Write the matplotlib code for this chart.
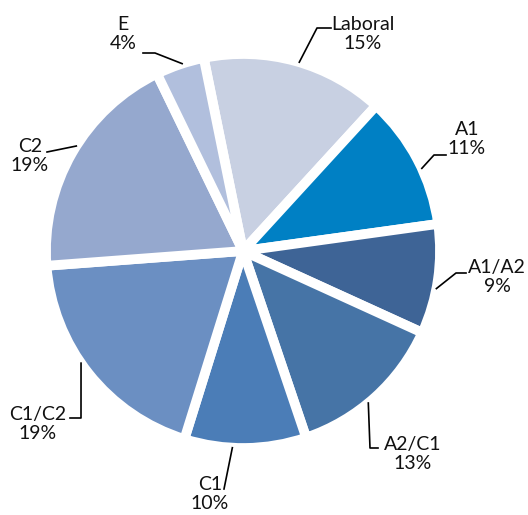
import numpy as np
import matplotlib.pyplot as plt

plt.rcParams['font.family'] = ['Lato', 'DejaVu Sans']

# data (clockwise from the top)
labels = ['Laboral', 'A1', 'A1/A2', 'A2/C1', 'C1', 'C1/C2', 'C2', 'E']
shares = [15, 11, 9, 13, 10, 19, 19, 4]
colors = ['#c8d0e2', '#0080c4', '#3e6496', '#4674a6', '#4b7db7',
          '#6b8fc2', '#95a8ce', '#b1bfdd']

W, H = 528, 515
cx, cy, R = 243, H - 251, 197

# label layout in pixel coords (y from top): edge angle, elbow, line end, text centre
edge_ang = [73.4, 24.8, -11.0, -50.5, -93.1, -145.3, 147.8, 108.0]
elbows = [(317, 28), (434, 155), (456, 273), (370, 448), (224, 489), (81, 418), (47, 152), (155, 53)]
ends = [(331, 28), (446, 155), (466, 273), (378, 448), (224, 489), (70, 418), (47, 152), (143, 53)]
text_pos = [(363, 34), (467, 139), (497, 277), (413, 454), (210, 494), (38, 424), (30, 156), (123, 34)]

fig = plt.figure(figsize=(W / 100, H / 100), dpi=100)
ax = fig.add_axes([0, 0, 1, 1])

ax.pie(shares, colors=colors, startangle=101.5, counterclock=False,
       center=(cx, cy), radius=R, frame=True,
       wedgeprops=dict(edgecolor='white', linewidth=7))
ax.set_xlim(0, W)
ax.set_ylim(0, H)
ax.axis('off')

for lab, s, a, el, en, tp in zip(labels, shares, edge_ang, elbows, ends, text_pos):
    t = np.deg2rad(a)
    x0, y0 = cx + R * np.cos(t), cy + R * np.sin(t)
    ax.plot([x0, el[0], en[0]], [y0, H - el[1], H - en[1]], color='black', lw=1.2)
    ax.text(tp[0], H - tp[1], f'{lab}\n{s}%', ha='center', va='center',
            multialignment='center', fontsize=14, color='#111111', linespacing=1.1)

fig.savefig('out.png', dpi=100)
